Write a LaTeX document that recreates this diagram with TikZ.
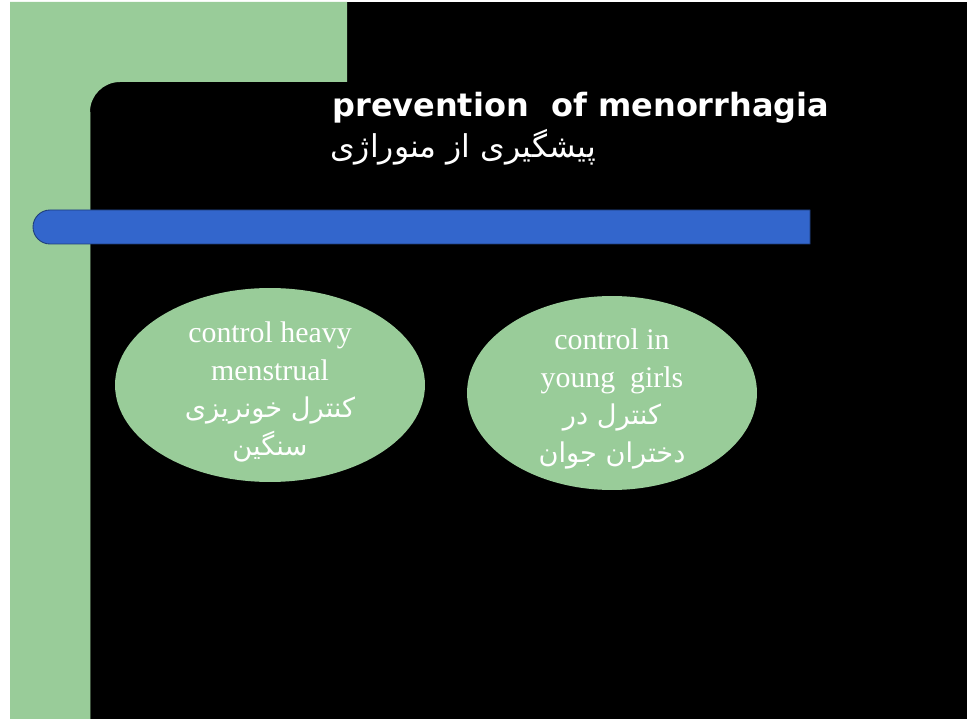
\documentclass[tikz,border=0pt]{standalone}
\usepackage{fontspec}
\setmainfont{Liberation Serif}
\newfontfamily\titlefont{DejaVu Sans}
\newfontfamily\arabicfont[Script=Arabic]{DejaVu Sans}
\TeXXeTstate=1
\usetikzlibrary{shapes.geometric}

\definecolor{slidegreen}{RGB}{153,204,153}
\definecolor{slideblue}{RGB}{51,102,204}

\newcommand{\fa}[1]{{\arabicfont\fontsize{15.5}{21.5}\selectfont\beginR #1\endR}}

\tikzset{
  bubble/.style={shape=ellipse, fill=slidegreen, inner sep=0pt, minimum height=3.88cm},
  bubbletext/.style={text=white, align=center, inner sep=0pt,
    font=\fontsize{17}{21.5}\selectfont},
  heading/.style={anchor=base west, inner sep=0pt, text=white}
}

\begin{document}
\begin{tikzpicture}[x=0.02cm, y=-0.02cm]
\useasboundingbox (0,0) rectangle (967,719);
% slide background
\fill[black] (10,2) rectangle (967,719);
\fill[slidegreen] (10,2) -- (347,2) -- (347,82) -- (120,82)
  .. controls (103.4,82) and (90,95.4) .. (90,112) -- (90,719) -- (10,719) -- cycle;
\draw[slidegreen!40!black, line width=0.4pt] (90,112) -- (90,719);

% blue bar
\filldraw[fill=slideblue, draw=slideblue!60!black, line width=0.5pt]
  (810,210) -- (50,210) .. controls (40.6,210) and (33,217.6) .. (33,227)
  .. controls (33,236.4) and (40.6,244) .. (50,244) -- (810,244) -- cycle;

% titles
\node[heading, font=\titlefont\bfseries\fontsize{18.2}{20}\selectfont] (title) at (332,117)
  {prevention\ \ of menorrhagia};
\node[heading, font=\fontsize{17.9}{20}\selectfont] (subtitle) at (330,158)
  {\arabicfont\beginR پیشگیری از منوراژی\endR};

% ellipses
\node[bubble, minimum width=6.2cm] (heavy) at (270,385) {};
\node[bubble, minimum width=5.8cm] (girls) at (612,393) {};
\node[bubbletext] (heavytext) at (270,392)
  {control heavy\\menstrual\\\fa{کنترل خونریزی}\\\fa{سنگین}};
\node[bubbletext] (girlstext) at (612,399)
  {control in\\young\ \ girls\\\fa{کنترل در}\\\fa{دختران جوان}};
\end{tikzpicture}
\end{document}
